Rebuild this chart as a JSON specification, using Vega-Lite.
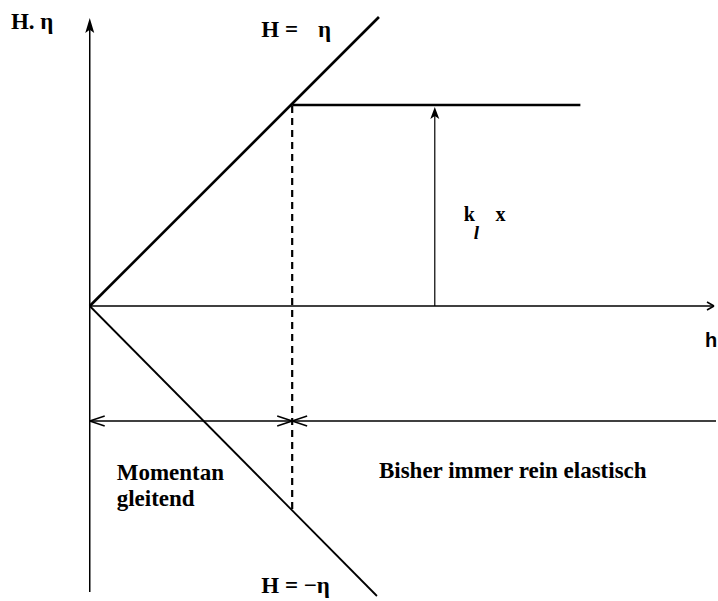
{
  "$schema": "https://vega.github.io/schema/vega-lite/v6.json",
  "width": 718,
  "height": 601,
  "autosize": {"type": "fit", "contains": "padding"},
  "padding": 0,
  "background": "white",
  "config": {"view": {"stroke": null}},
  "datasets": {
    "thin": [
      {"x": 90, "y": 592, "x2": 90, "y2": 24},
      {"x": 90, "y": 306, "x2": 715, "y2": 306},
      {"x": 90, "y": 421, "x2": 718, "y2": 421},
      {"x": 90, "y": 421, "x2": 105, "y2": 416},
      {"x": 90, "y": 421, "x2": 105, "y2": 426},
      {"x": 293, "y": 421, "x2": 278, "y2": 416},
      {"x": 293, "y": 421, "x2": 278, "y2": 426},
      {"x": 293, "y": 421, "x2": 308, "y2": 416},
      {"x": 293, "y": 421, "x2": 308, "y2": 426},
      {"x": 716, "y": 306, "x2": 709, "y2": 302},
      {"x": 716, "y": 306, "x2": 709, "y2": 310}
    ],
    "thick": [
      {"x": 90, "y": 306, "x2": 380, "y2": 17},
      {"x": 293, "y": 105, "x2": 582, "y2": 105}
    ],
    "medium": [
      {"x": 90, "y": 306, "x2": 378, "y2": 596}
    ],
    "dashed": [
      {"x": 293, "y": 106, "x2": 293, "y2": 509}
    ],
    "shaft": [
      {"x": 436, "y": 306, "x2": 436, "y2": 112}
    ],
    "heads": [
      {"x": 90, "y": 25.5, "name": "yaxis"}
    ],
    "heads2": [
      {"x": 436, "y": 113, "name": "k"}
    ],
    "serif": [
      {"x": 11, "y": 29, "text": "H. η"},
      {"x": 262, "y": 37, "text": "H ="},
      {"x": 319, "y": 37, "text": "η"},
      {"x": 262, "y": 593, "text": "H = −η"},
      {"x": 117, "y": 480, "text": "Momentan"},
      {"x": 117, "y": 506, "text": "gleitend"},
      {"x": 380, "y": 478, "text": "Bisher immer rein elastisch"}
    ],
    "small": [
      {"x": 465, "y": 221, "text": "k"},
      {"x": 497, "y": 221, "text": "x"}
    ],
    "sub": [
      {"x": 475, "y": 239, "text": "l"}
    ],
    "sans": [
      {"x": 707, "y": 347, "text": "h"}
    ]
  },
  "layer": [
    {
      "data": {"name": "thin"},
      "mark": {"type": "rule", "color": "black", "strokeWidth": 1.5},
      "encoding": {
        "x": {"field": "x", "type": "quantitative", "scale": {"domain": [0, 718]}, "axis": null},
        "y": {"field": "y", "type": "quantitative", "scale": {"domain": [0, 601], "reverse": true}, "axis": null},
        "x2": {"field": "x2"},
        "y2": {"field": "y2"}
      }
    },
    {
      "data": {"name": "thick"},
      "mark": {"type": "rule", "color": "black", "strokeWidth": 2.6},
      "encoding": {
        "x": {"field": "x", "type": "quantitative", "scale": {"domain": [0, 718]}, "axis": null},
        "y": {"field": "y", "type": "quantitative", "scale": {"domain": [0, 601], "reverse": true}, "axis": null},
        "x2": {"field": "x2"},
        "y2": {"field": "y2"}
      }
    },
    {
      "data": {"name": "medium"},
      "mark": {"type": "rule", "color": "black", "strokeWidth": 1.8},
      "encoding": {
        "x": {"field": "x", "type": "quantitative", "scale": {"domain": [0, 718]}, "axis": null},
        "y": {"field": "y", "type": "quantitative", "scale": {"domain": [0, 601], "reverse": true}, "axis": null},
        "x2": {"field": "x2"},
        "y2": {"field": "y2"}
      }
    },
    {
      "data": {"name": "dashed"},
      "mark": {"type": "rule", "color": "black", "strokeWidth": 2.2, "strokeDash": [7, 5]},
      "encoding": {
        "x": {"field": "x", "type": "quantitative", "scale": {"domain": [0, 718]}, "axis": null},
        "y": {"field": "y", "type": "quantitative", "scale": {"domain": [0, 601], "reverse": true}, "axis": null},
        "x2": {"field": "x2"},
        "y2": {"field": "y2"}
      }
    },
    {
      "data": {"name": "shaft"},
      "mark": {"type": "rule", "color": "black", "strokeWidth": 1.2},
      "encoding": {
        "x": {"field": "x", "type": "quantitative", "scale": {"domain": [0, 718]}, "axis": null},
        "y": {"field": "y", "type": "quantitative", "scale": {"domain": [0, 601], "reverse": true}, "axis": null},
        "x2": {"field": "x2"},
        "y2": {"field": "y2"}
      }
    },
    {
      "data": {"name": "heads"},
      "mark": {"type": "point", "shape": "M0,-1L0.6,1L0,0.55L-0.6,1Z", "size": 225, "filled": true, "color": "black", "opacity": 1, "strokeWidth": 0},
      "encoding": {
        "x": {"field": "x", "type": "quantitative", "scale": {"domain": [0, 718]}, "axis": null},
        "y": {"field": "y", "type": "quantitative", "scale": {"domain": [0, 601], "reverse": true}, "axis": null}
      }
    },
    {
      "data": {"name": "heads2"},
      "mark": {"type": "point", "shape": "M0,-1L0.75,1L0,0.5L-0.75,1Z", "size": 144, "filled": true, "color": "black", "opacity": 1, "strokeWidth": 0},
      "encoding": {
        "x": {"field": "x", "type": "quantitative", "scale": {"domain": [0, 718]}, "axis": null},
        "y": {"field": "y", "type": "quantitative", "scale": {"domain": [0, 601], "reverse": true}, "axis": null}
      }
    },
    {
      "data": {"name": "serif"},
      "mark": {"type": "text", "font": "Liberation Serif", "fontWeight": "bold", "fontSize": 23, "align": "left", "baseline": "alphabetic", "color": "black"},
      "encoding": {
        "x": {"field": "x", "type": "quantitative", "scale": {"domain": [0, 718]}, "axis": null},
        "y": {"field": "y", "type": "quantitative", "scale": {"domain": [0, 601], "reverse": true}, "axis": null},
        "text": {"field": "text"}
      }
    },
    {
      "data": {"name": "small"},
      "mark": {"type": "text", "font": "Liberation Serif", "fontWeight": "bold", "fontSize": 20, "align": "left", "baseline": "alphabetic", "color": "black"},
      "encoding": {
        "x": {"field": "x", "type": "quantitative", "scale": {"domain": [0, 718]}, "axis": null},
        "y": {"field": "y", "type": "quantitative", "scale": {"domain": [0, 601], "reverse": true}, "axis": null},
        "text": {"field": "text"}
      }
    },
    {
      "data": {"name": "sub"},
      "mark": {"type": "text", "font": "Liberation Serif", "fontWeight": "bold", "fontStyle": "italic", "fontSize": 19, "align": "left", "baseline": "alphabetic", "color": "black"},
      "encoding": {
        "x": {"field": "x", "type": "quantitative", "scale": {"domain": [0, 718]}, "axis": null},
        "y": {"field": "y", "type": "quantitative", "scale": {"domain": [0, 601], "reverse": true}, "axis": null},
        "text": {"field": "text"}
      }
    },
    {
      "data": {"name": "sans"},
      "mark": {"type": "text", "font": "Liberation Sans", "fontWeight": "bold", "fontSize": 20, "align": "left", "baseline": "alphabetic", "color": "black"},
      "encoding": {
        "x": {"field": "x", "type": "quantitative", "scale": {"domain": [0, 718]}, "axis": null},
        "y": {"field": "y", "type": "quantitative", "scale": {"domain": [0, 601], "reverse": true}, "axis": null},
        "text": {"field": "text"}
      }
    }
  ]
}
